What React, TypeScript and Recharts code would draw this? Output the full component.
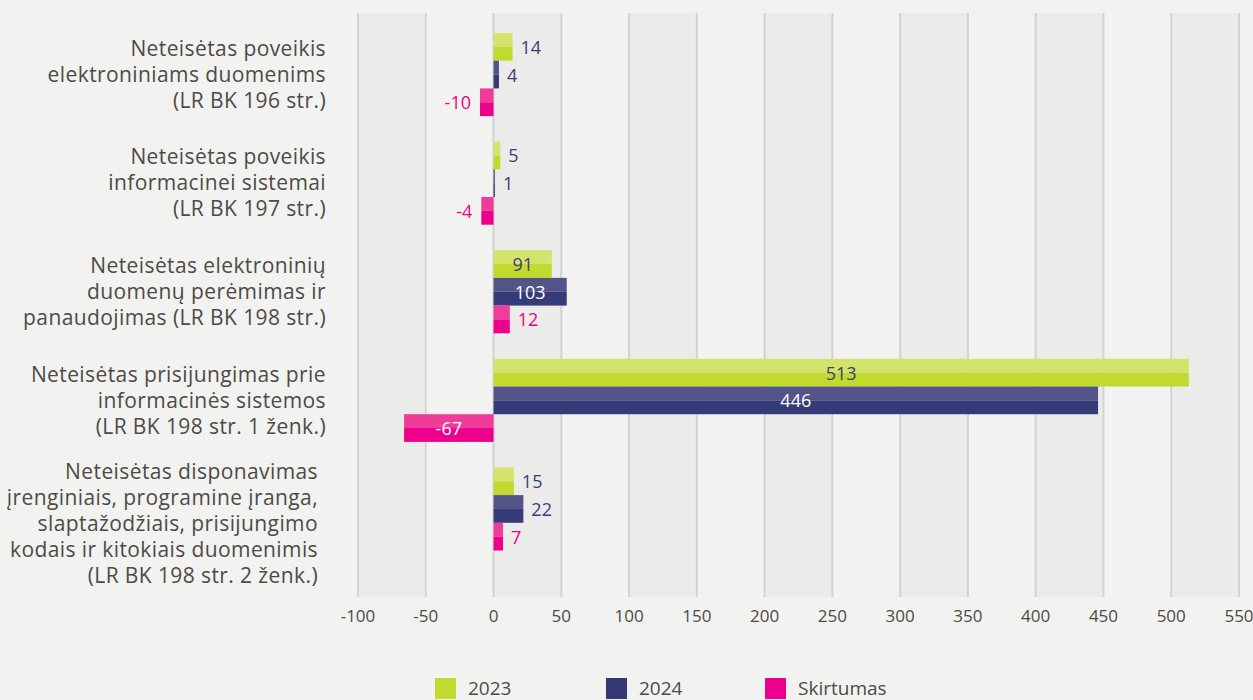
import { BarChart, Bar, XAxis, YAxis, CartesianGrid, Legend, LabelList } from 'recharts';

// Category labels, split into lines the way the source lays them out
const categories = [
  'Neteisėtas poveikis\nelektroniniams duomenims\n(LR BK 196 str.)',
  'Neteisėtas poveikis\ninformacinei sistemai\n(LR BK 197 str.)',
  'Neteisėtas elektroninių\nduomenų perėmimas ir\npanaudojimas (LR BK 198 str.)',
  'Neteisėtas prisijungimas prie\ninformacinės sistemos\n(LR BK 198 str. 1 ženk.)',
  'Neteisėtas disponavimas\nįrenginiais, programine įranga,\nslaptažodžiais, prisijungimo\nkodais ir kitokiais duomenimis\n(LR BK 198 str. 2 ženk.)',
];

// Bar lengths as drawn in the source (a few bars there are shorter than their printed value)
const bars2023 = [14, 5, 43, 513, 15];
const bars2024 = [4, 1, 54, 446, 22];
const barsDiff = [-10, -9, 12, -66, 7];

// Values printed next to / inside the bars
const labels2023 = [14, 5, 91, 513, 15];
const labels2024 = [4, 1, 103, 446, 22];
const labelsDiff = [-10, -4, 12, -67, 7];

const xTicks = [-100, -50, 0, 50, 100, 150, 200, 250, 300, 350, 400, 450, 500, 550];

const legendItems = [
  { name: '2023', color: '#c2d92e', width: 171 },
  { name: '2024', color: '#343976', width: 159 },
  { name: 'Skirtumas', color: '#ec008c', width: 140 },
];

const FONT = '"Open Sans", Roboto, sans-serif';
const BG = '#f2f2f0';
const STRIPE = '#ebebe9';
const GRID = '#d3d3d1';
const TEXT = '#4d4b45';
const NAVY_TEXT = '#3b3f78';

const data = categories.map((cat, i) => ({
  cat,
  v2023: bars2023[i],
  v2024: bars2024[i],
  vDiff: barsDiff[i],
  l2023: labels2023[i],
  l2024: labels2024[i],
  lDiff: labelsDiff[i],
}));

function norm(p: any) {
  const vb = p.viewBox && p.viewBox.width != null ? p.viewBox : p;
  const x = Number(vb.x), w = Number(vb.width);
  const y = Number(vb.y), h = Number(vb.height);
  return {
    left: w < 0 ? x + w : x,
    w: Math.abs(w),
    top: h < 0 ? y + h : y,
    h: Math.abs(h),
    neg: w < 0,
  };
}

// two-tone bar: lighter upper half, full colour lower half
function twoTone(light: string, dark: string) {
  return (p: any) => {
    const { left, w, top, h } = norm(p);
    if (!w) return <g />;
    return (
      <g>
        <rect x={left} y={top} width={w} height={h / 2} fill={light} />
        <rect x={left} y={top + h / 2} width={w} height={h / 2} fill={dark} />
      </g>
    );
  };
}

function barLabel(outsideColor: string, insideColor: string) {
  return (p: any) => {
    const { left, w, top, h, neg } = norm(p);
    const v = Number(p.value);
    const cy = top + h / 2;
    const common = { fontFamily: FONT, fontSize: 18, dominantBaseline: 'central' as const };
    if (w > 40) {
      return (
        <text x={left + w / 2} y={cy} textAnchor="middle" fill={insideColor} {...common}>
          {v}
        </text>
      );
    }
    if (neg || v < 0) {
      return (
        <text x={left - 9} y={cy} textAnchor="end" fill={outsideColor} {...common}>
          {v}
        </text>
      );
    }
    return (
      <text x={left + w + 8} y={cy} textAnchor="start" fill={outsideColor} {...common}>
        {v}
      </text>
    );
  };
}

function CategoryTick(props: any) {
  const { x, y, payload } = props;
  const lines: string[] = String(payload.value).split('\n');
  const lh = 26;
  // the long five-line label sits a little lower and further left in the source
  const shiftY = lines.length > 3 ? 15 : 0;
  const shiftX = lines.length > 3 ? -8 : 0;
  const x0 = x - 32 + shiftX;
  return (
    <text x={x0} y={y} textAnchor="end" fill={TEXT} fontFamily={FONT} fontSize={21} letterSpacing={0.4}>
      {lines.map((ln, i) => (
        <tspan key={i} x={x0} y={y + shiftY + (i - (lines.length - 1) / 2) * lh} dy="0.36em">
          {ln}
        </tspan>
      ))}
    </text>
  );
}

function ValueTick(props: any) {
  const { x, y, payload } = props;
  return (
    <text x={x} y={y + 25} textAnchor="middle" fill="#4d4b45" fontFamily={FONT} fontSize={17}>
      {payload.value}
    </text>
  );
}

function LegendRow() {
  return (
    <div style={{ display: 'flex', paddingLeft: 435, paddingTop: 7, height: 30, boxSizing: 'border-box' }}>
      {legendItems.map((it) => (
        <div key={it.name} style={{ display: 'flex', alignItems: 'center', width: it.width }}>
          <div style={{ width: 21, height: 21, background: it.color, marginRight: 12 }} />
          <span style={{ fontFamily: FONT, fontSize: 19, color: TEXT, lineHeight: '21px' }}>{it.name}</span>
        </div>
      ))}
    </div>
  );
}

export default function App() {
  return (
    <div style={{ position: 'absolute', left: 0, top: 0, width: 1253, height: 700, background: BG, overflow: 'hidden' }}>
      <BarChart
        width={1253}
        height={700}
        data={data}
        layout="vertical"
        margin={{ top: 13, right: 14, left: 0, bottom: 33 }}
        barSize={27.7}
        barGap={0}
      >
        <CartesianGrid
          horizontal={false}
          stroke={GRID}
          strokeWidth={2}
          verticalFill={[STRIPE, BG]}
        />
        <XAxis
          type="number"
          domain={[-100, 550]}
          ticks={xTicks}
          axisLine={false}
          tickLine={false}
          tickSize={0}
          tickMargin={0}
          height={40}
          tick={<ValueTick />}
          interval={0}
        />
        <YAxis
          type="category"
          dataKey="cat"
          width={358}
          axisLine={false}
          tickLine={false}
          tickSize={0}
          tickMargin={0}
          padding={{ top: 7, bottom: 34 }}
          tick={<CategoryTick />}
          interval={0}
        />
        <Legend verticalAlign="bottom" height={30} wrapperStyle={{ bottom: 0, left: 0 }} content={() => <LegendRow />} />
        <Bar dataKey="v2023" name="2023" fill="#c2d92e" isAnimationActive={false} shape={twoTone('#d4e36a', '#c2d92e')}>
          <LabelList dataKey="l2023" content={barLabel(NAVY_TEXT, NAVY_TEXT)} />
        </Bar>
        <Bar dataKey="v2024" name="2024" fill="#343976" isAnimationActive={false} shape={twoTone('#525487', '#353a78')}>
          <LabelList dataKey="l2024" content={barLabel(NAVY_TEXT, '#ffffff')} />
        </Bar>
        <Bar dataKey="vDiff" name="Skirtumas" fill="#ec008c" isAnimationActive={false} shape={twoTone('#ef3c98', '#ec008c')}>
          <LabelList dataKey="lDiff" content={barLabel('#ec008c', '#ffffff')} />
        </Bar>
      </BarChart>
    </div>
  );
}
